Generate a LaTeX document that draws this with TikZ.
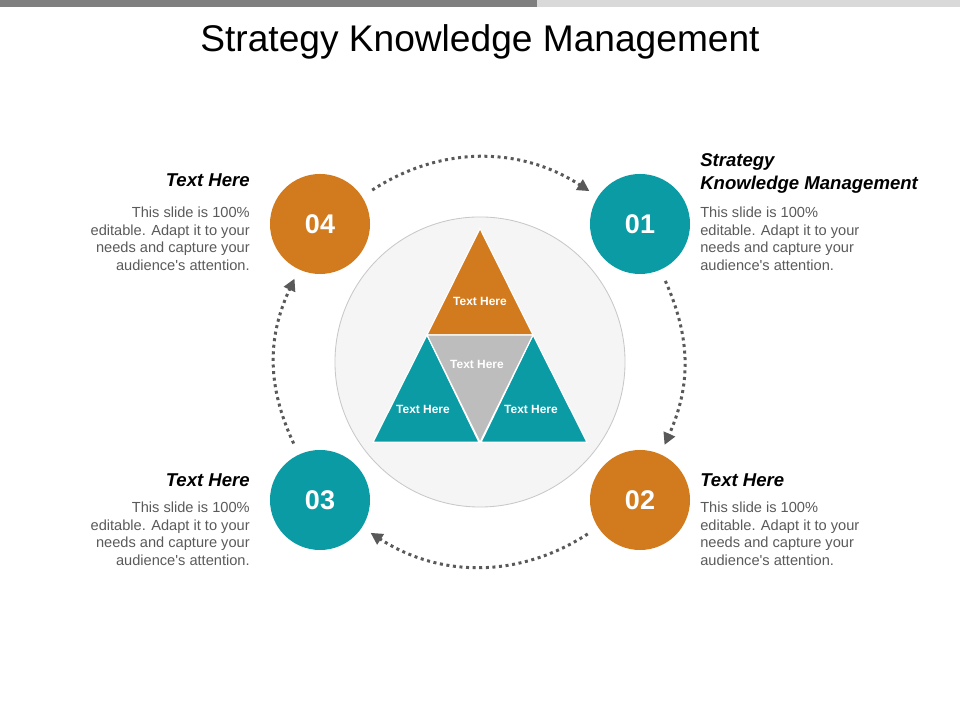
\documentclass[tikz,border=0pt]{standalone}
\usepackage{fontspec}
\setmainfont{Liberation Sans}
\usetikzlibrary{positioning,arrows.meta}

\definecolor{kmorange}{HTML}{D27B1E}
\definecolor{kmteal}{HTML}{0A9BA5}
\definecolor{kmgray}{HTML}{BDBDBD}
\definecolor{ringfill}{HTML}{F5F5F5}
\definecolor{ringline}{HTML}{C8C8C8}
\definecolor{flowgray}{HTML}{595959}
\definecolor{bodygray}{HTML}{5A5A5A}
\definecolor{bardark}{HTML}{7F7F7F}
\definecolor{barlight}{HTML}{D9D9D9}

\begin{document}
\begin{tikzpicture}[
    x=0.025cm, y=0.025cm,
    stage/.style = {circle, minimum size=2.5cm, inner sep=0pt, text=white, font=\fontsize{19.2}{23}\selectfont\bfseries},
    flow/.style = {-{Triangle[length=0.3cm,width=0.3cm]}, draw=flowgray, line width=0.075cm, dash pattern=on 0.075cm off 0.09cm, shorten <=0.3cm, shorten >=0.25cm},
    head/.style = {inner sep=0pt, font=\fontsize{13.2}{16.4}\selectfont\bfseries\itshape},
    body/.style = {inner sep=0pt, text=bodygray, font=\fontsize{10.4}{12.6}\selectfont},
    piece/.style = {draw=white, line width=0.8pt},
    piecetext/.style = {text=white, font=\fontsize{8.5}{10}\selectfont\bfseries}
    ]
    \useasboundingbox (0,0) rectangle (960,720);
    \fill[bardark] (0,713) rectangle (537,720);
    \fill[barlight] (537,713) rectangle (960,720);
    \node[anchor=base, font=\fontsize{26.4}{31}\selectfont] (title) at (480,668) {Strategy Knowledge Management};

    % centre ring and pyramid
    \node[circle, minimum size=7.25cm, fill=ringfill, draw=ringline, line width=0.6pt] (ring) at (480,358) {};
    \filldraw[piece, fill=kmorange] (427,385) -- (480,491.5) -- (533,385) -- cycle;
    \filldraw[piece, fill=kmteal] (373,277.7) -- (427,385) -- (479,277.7) -- cycle;
    \filldraw[piece, fill=kmteal] (481,277.7) -- (533,385) -- (587,277.7) -- cycle;
    \filldraw[piece, fill=kmgray] (427,385) -- (533,385) -- (480,277.7) -- cycle;
    \node[piecetext] (ptop) at (480,419) {Text Here};
    \node[piecetext] (pmid) at (477,356) {Text Here};
    \node[piecetext] (pleft) at (423,311) {Text Here};
    \node[piecetext] (pright) at (531,311) {Text Here};

    % numbered stages
    \node[stage, fill=kmteal] (c1) at (640,496) {01};
    \node[stage, fill=kmorange] (c2) at (640,220) {02};
    \node[stage, fill=kmteal] (c3) at (320,220) {03};
    \node[stage, fill=kmorange] (c4) at (320,496) {04};

    \draw[flow] (c4) to[out=33, in=147, distance=2.33cm] (c1);
    \draw[flow] (c1) to[out=-66, in=66, distance=1.88cm] (c2);
    \draw[flow] (c2) to[out=213, in=-33, distance=2.33cm] (c3);
    \draw[flow] (c3) to[out=115, in=245, distance=1.88cm] (c4);

    % text blocks
    \node[head, anchor=north west, align=left] (h1) at (700,566.5) {Strategy\\Knowledge Management};
    \node[body, anchor=north west, align=left] (b1) at (700,513.5) {This slide is 100\%\\editable. Adapt it to your\\needs and capture your\\audience\textquotesingle s attention.};
    \node[head, anchor=north west] (h2) at (700,246.3) {Text Here};
    \node[body, anchor=north west, align=left] (b2) at (700,218.5) {This slide is 100\%\\editable. Adapt it to your\\needs and capture your\\audience\textquotesingle s attention.};
    \node[head, anchor=north east] (h3) at (250,246.3) {Text Here};
    \node[body, anchor=north east, align=right] (b3) at (250,218.5) {This slide is 100\%\\editable. Adapt it to your\\needs and capture your\\audience\textquotesingle s attention.};
    \node[head, anchor=north east] (h4) at (250,546.3) {Text Here};
    \node[body, anchor=north east, align=right] (b4) at (250,513.5) {This slide is 100\%\\editable. Adapt it to your\\needs and capture your\\audience\textquotesingle s attention.};
\end{tikzpicture}
\end{document}
